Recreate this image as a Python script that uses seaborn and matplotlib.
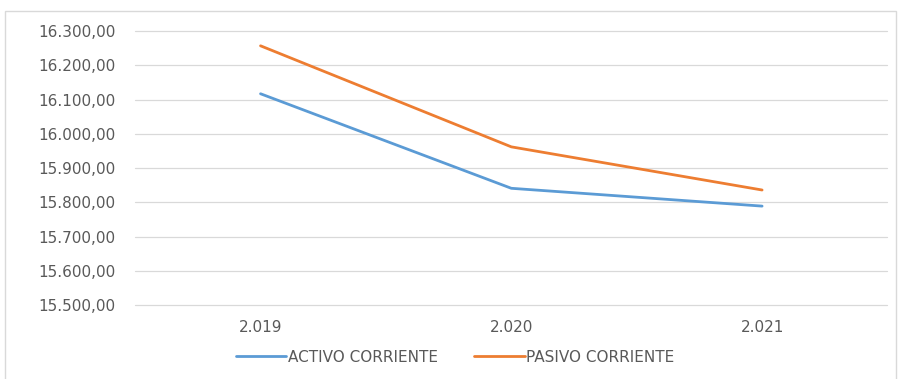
import matplotlib
matplotlib.use("Agg")
import matplotlib.pyplot as plt
import seaborn as sns
import pandas as pd
from matplotlib.ticker import FuncFormatter, MultipleLocator
from matplotlib.patches import Rectangle
from matplotlib.lines import Line2D

years = ["2.019", "2.020", "2.021"]
activo = [16117, 15841, 15789]
pasivo = [16257, 15962, 15836]
series_names = ["ACTIVO CORRIENTE", "PASIVO CORRIENTE"]
colors = ["#5B9BD5", "#ED7D31"]

df = pd.DataFrame({
    "year": years * 2,
    "value": activo + pasivo,
    "serie": [series_names[0]] * 3 + [series_names[1]] * 3,
})

sns.set_theme(style="white")
plt.rcParams["font.family"] = ["DejaVu Sans"]

fig = plt.figure(figsize=(9.01, 3.79), dpi=100)
ax = fig.add_axes([0.15, 0.195, 0.835, 0.723])

sns.lineplot(data=df, x="year", y="value", hue="serie", palette=colors,
             sort=False, linewidth=2.0, ax=ax, legend=False)

ax.set_ylim(15500, 16300)
ax.set_xlim(-0.5, 2.5)
ax.yaxis.set_major_locator(MultipleLocator(100))

def fmt(v, pos):
    s = f"{v:,.2f}"
    return s.replace(",", "X").replace(".", ",").replace("X", ".")

ax.yaxis.set_major_formatter(FuncFormatter(fmt))
ax.grid(axis="y", color="#d9d9d9", linewidth=0.9)
ax.grid(axis="x", visible=False)
for gl in ax.get_ygridlines():
    gl.set_clip_on(False)
for s in ax.spines.values():
    s.set_visible(False)
ax.tick_params(axis="both", length=0, labelsize=11, colors="#595959")
ax.tick_params(axis="y", pad=14)
ax.tick_params(axis="x", pad=11)
ax.set_xlabel("")
ax.set_ylabel("")

handles = [Line2D([0], [0], color=c, lw=2.0) for c in colors]
leg = fig.legend(handles, series_names, loc="center", bbox_to_anchor=(455 / 901, 1 - 357 / 379),
                 ncol=2, frameon=False, fontsize=11, handlelength=3.3,
                 handletextpad=0.1, columnspacing=2.4)
for t in leg.get_texts():
    t.set_color("#595959")

fig.patches.append(Rectangle((0.006, -0.05), 0.988, 1.02, transform=fig.transFigure,
                             fill=False, edgecolor="#d9d9d9", linewidth=1.0))

fig.savefig("out.png", dpi=100)
